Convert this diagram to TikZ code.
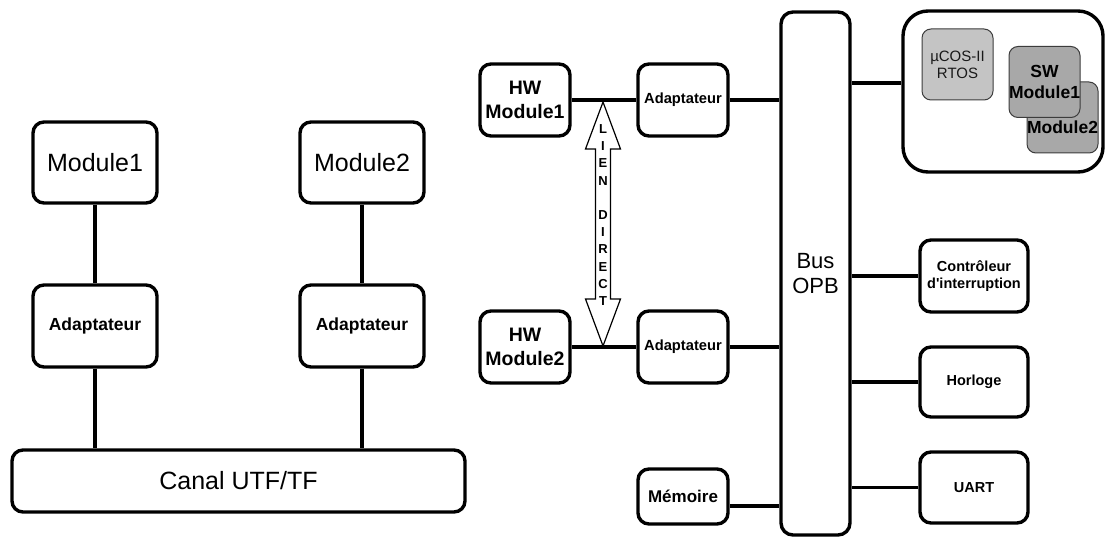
\documentclass[tikz,border=0pt]{standalone}
\usepackage{fontspec}
\setmainfont{Liberation Sans}
\usetikzlibrary{calc}
\definecolor{rtosgray}{RGB}{196,196,196}
\definecolor{swgray}{RGB}{168,168,168}
\definecolor{edgegray}{RGB}{60,60,60}
\begin{document}
\begin{tikzpicture}[x=1pt,y=-1pt,
  box/.style={draw, line width=3.4pt, rounded corners=11pt, fill=white,
    align=center, inner sep=0pt},
  wire/.style={line width=3.4pt},
  bigtxt/.style={font=\fontsize{25}{27}\selectfont},
  boldtxt/.style={font=\bfseries\fontsize{#1}{#1}\linespread{1.22}\selectfont},
  softbox/.style={draw=edgegray, line width=1pt, rounded corners=9pt,
    align=center, inner sep=0pt, minimum width=71pt, minimum height=71pt}]
\useasboundingbox (0,0) rectangle (1107,537);

% ---------- left: modules on the UTF/TF channel ----------
\node[box, bigtxt, minimum width=124pt, minimum height=81pt] (m1) at (95,162.5) {Module1};
\node[box, bigtxt, minimum width=124pt, minimum height=81pt] (m2) at (362,162.5) {Module2};
\node[box, boldtxt=17.5, minimum width=124pt, minimum height=82pt] (a1) at (95,326) {Adaptateur};
\node[box, boldtxt=17.5, minimum width=124pt, minimum height=82pt] (a2) at (362,326) {Adaptateur};
\node[box, bigtxt, minimum width=453pt, minimum height=62pt] (canal) at (238.5,481) {Canal UTF/TF};
\draw[wire] (m1) -- (a1);
\draw[wire] (m2) -- (a2);
\draw[wire] (a1) -- (a1 |- canal.north);
\draw[wire] (a2) -- (a2 |- canal.north);

% ---------- right: OPB bus system ----------
\node[box, rounded corners=12pt, minimum width=69pt, minimum height=523pt,
  font=\fontsize{22}{25}\selectfont] (bus) at (815.5,273.5) {Bus\\OPB};

\node[box, boldtxt=19.5, minimum width=90pt, minimum height=72pt] (hw1) at (525,100) {HW\\Module1};
\node[box, boldtxt=14.7, minimum width=90pt, minimum height=72pt] (ad1) at (683,100) {Adaptateur};
\node[box, boldtxt=19.5, minimum width=90pt, minimum height=72pt] (hw2) at (525,347) {HW\\Module2};
\node[box, boldtxt=14.7, minimum width=90pt, minimum height=72pt] (ad2) at (683,347) {Adaptateur};
\node[box, boldtxt=17, minimum width=90pt, minimum height=55pt] (mem) at (683,496.5) {Mémoire};

\node[box, boldtxt=14.5, minimum width=108pt, minimum height=72pt] (ctrl) at (974,276) {Contrôleur\\d\textquotesingle interruption};
\node[box, boldtxt=14.5, minimum width=108pt, minimum height=70pt] (horl) at (974,382) {Horloge};
\node[box, boldtxt=14.5, minimum width=108pt, minimum height=71pt] (uart) at (974,487.5) {UART};

% processor block with the OS and the software modules
\node[box, rounded corners=25pt, minimum width=200pt, minimum height=161pt] (cpu) at (1003,91.5) {};
\node[softbox, fill=rtosgray, text=black!90, font=\fontsize{15}{17}\selectfont] (rtos) at (957.5,64.5) {µCOS-II\\RTOS};
\node[softbox, fill=swgray] (sw2) at (1062.5,117.5) {};
\node[boldtxt=17.5, inner sep=0pt] (sw2txt) at (1062.5,127) {Module2};
\node[softbox, fill=swgray, boldtxt=17.5] (sw1) at (1044.5,82) {SW\\Module1};

% connectors
\draw[wire] (hw1) -- (ad1);
\draw[wire] (hw2) -- (ad2);
\draw[wire] (ad1) -- (ad1 -| bus.west);
\draw[wire] (ad2) -- (ad2 -| bus.west);
\coordinate (memout) at ([yshift=-9.5pt]mem.east);
\draw[wire] (memout) -- (memout -| bus.west);
\coordinate (cpuin) at ([yshift=8.5pt]cpu.west);
\draw[wire] (cpuin) -- (cpuin -| bus.east);
\draw[wire] (ctrl) -- (ctrl -| bus.east);
\draw[wire] (horl) -- (horl -| bus.east);
\draw[wire] (uart) -- (uart -| bus.east);

% direct link between the two hardware modules
\coordinate (ltop) at (603,102);
\coordinate (lbot) at (603,346);
\draw[line width=1.2pt, fill=white, line join=miter]
  (ltop) -- ++(17.5,47) -- ++(-10,0) -- ($(lbot)+(7.5,-47)$) -- ++(10,0)
  -- (lbot) -- ++(-17.5,-47) -- ++(10,0) -- ($(ltop)+(-7.5,47)$) -- ++(-10,0) -- cycle;
\node[align=center, inner sep=0pt, font=\bfseries\fontsize{13}{17.2}\selectfont] (lien) at (603,215)
  {L\\I\\E\\N\\[17.2pt]D\\I\\R\\E\\C\\T};
\end{tikzpicture}
\end{document}
